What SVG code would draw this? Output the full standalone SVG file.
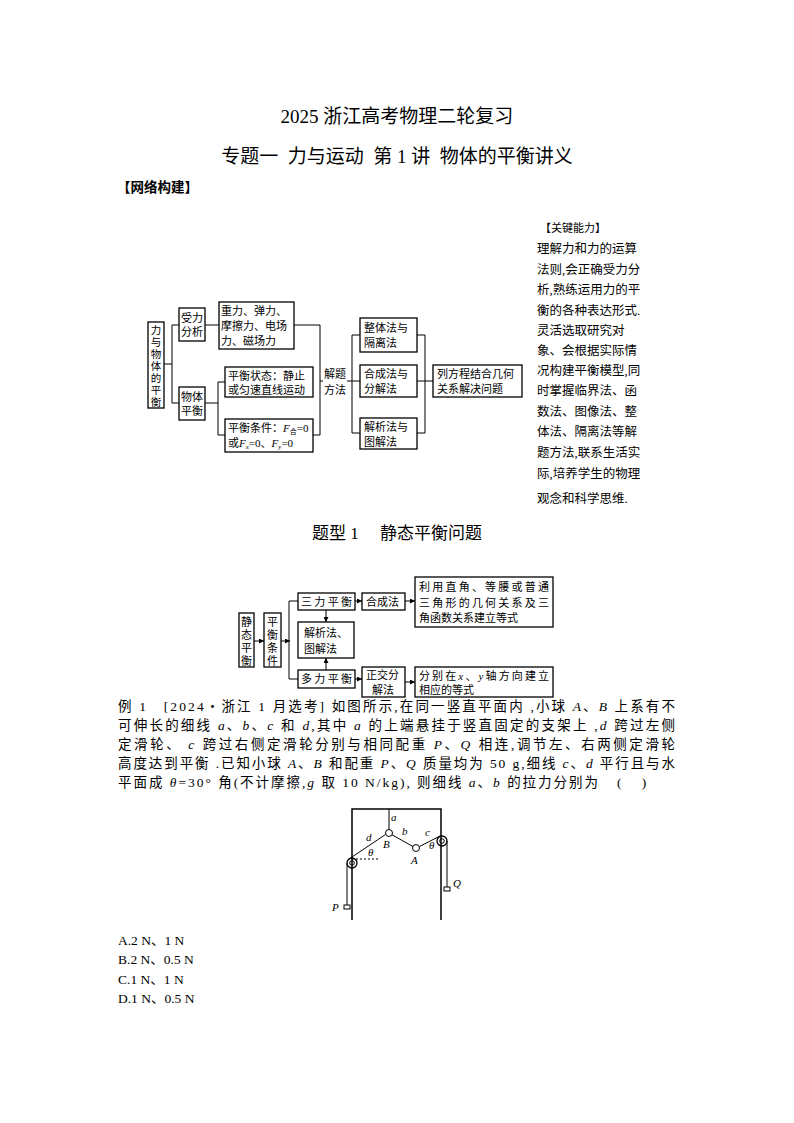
<svg xmlns="http://www.w3.org/2000/svg" width="794" height="1123" viewBox="0 0 794 1123">
<style>
text{font-family:"Liberation Serif","Noto Sans CJK SC",serif;fill:#000}
.t{font-size:13.5px}
.s{font-size:11px}
.b{fill:#fff;stroke:#000;stroke-width:1.3}
.l{fill:none;stroke:#000;stroke-width:1}
.i{font-style:italic}
</style>
<defs><marker id="ar" viewBox="0 0 6 6" refX="6" refY="3" markerWidth="5" markerHeight="5" orient="auto"><path d="M0,0L6,3L0,6z"/></marker></defs>
<rect width="794" height="1123" fill="#fff"/>
<text x="397" y="123" font-size="19" text-anchor="middle">2025 浙江高考物理二轮复习</text>
<text x="397" y="163" font-size="19" text-anchor="middle" xml:space="preserve">专题一  力与运动  第 1 讲  物体的平衡讲义</text>
<text x="117" y="192" font-size="13.5" font-weight="bold">【网络构建】</text>

<g id="conn1" class="l">
<path d="M164,364H172M172,325V403M172,325H179M172,403H179M205,325H219M205,403H218M218,382V435M218,382H225M218,435H225M294,325H320V435H313M320,381H323M347,381H352M352,335V433M352,335H360M352,381H360M352,433H360M417,335H425V433H417M417,381H433"/>
</g>
<g id="n1"><rect class="b" x="148" y="322" width="16" height="86"/><text font-size="10.5" text-anchor="middle"><tspan x="156" y="334">力</tspan><tspan x="156" y="346">与</tspan><tspan x="156" y="358">物</tspan><tspan x="156" y="370">体</tspan><tspan x="156" y="382">的</tspan><tspan x="156" y="394">平</tspan><tspan x="156" y="406">衡</tspan></text></g>
<g id="n2"><rect class="b" x="179" y="308" width="26" height="33"/><text class="s" x="181" y="322">受力</text><text class="s" x="181" y="336">分析</text></g>
<g id="n3"><rect class="b" x="179" y="387" width="26" height="33"/><text class="s" x="181" y="401">物体</text><text class="s" x="181" y="415">平衡</text></g>
<g id="n4"><rect class="b" x="219" y="302" width="75" height="47"/><text class="s" x="221" y="315">重力、弹力、</text><text class="s" x="221" y="330">摩擦力、电场</text><text class="s" x="221" y="345">力、磁场力</text></g>
<g id="n5"><rect class="b" x="225" y="367" width="88" height="30"/><text class="s" x="228" y="380">平衡状态：静止</text><text class="s" x="228" y="394">或匀速直线运动</text></g>
<g id="n6"><rect class="b" x="225" y="419" width="88" height="33"/><text class="s" x="228" y="432">平衡条件：<tspan class="i">F</tspan><tspan font-size="7" dy="2">合</tspan><tspan dy="-2">=0</tspan></text><text class="s" x="228" y="447">或<tspan class="i">F</tspan><tspan font-size="7" dy="2" class="i">x</tspan><tspan dy="-2">=0、</tspan><tspan class="i">F</tspan><tspan font-size="7" dy="2" class="i">y</tspan><tspan dy="-2">=0</tspan></text></g>
<g id="n7"><text class="s" x="324" y="378">解题</text><text class="s" x="324" y="394">方法</text></g>
<g id="n8"><rect class="b" x="360" y="318" width="57" height="34"/><text class="s" x="364" y="332">整体法与</text><text class="s" x="364" y="347">隔离法</text></g>
<g id="n9"><rect class="b" x="360" y="365" width="57" height="32"/><text class="s" x="364" y="378">合成法与</text><text class="s" x="364" y="393">分解法</text></g>
<g id="n10"><rect class="b" x="360" y="418" width="57" height="31"/><text class="s" x="364" y="431">解析法与</text><text class="s" x="364" y="446">图解法</text></g>
<g id="n11"><rect class="b" x="433" y="365" width="89" height="32"/><text class="s" x="437" y="378">列方程结合几何</text><text class="s" x="437" y="393">关系解决问题</text></g>

<g font-size="12.5">
<text x="540" y="232" font-size="11">【关键能力】</text>
<text x="537" y="253">理解力和力的运算</text>
<text x="537" y="274">法则,会正确受力分</text>
<text x="537" y="294">析,熟练运用力的平</text>
<text x="537" y="315">衡的各种表达形式.</text>
<text x="537" y="335">灵活选取研究对</text>
<text x="537" y="355">象、会根据实际情</text>
<text x="537" y="375">况构建平衡模型,同</text>
<text x="537" y="395">时掌握临界法、函</text>
<text x="537" y="416">数法、图像法、整</text>
<text x="537" y="436">体法、隔离法等解</text>
<text x="537" y="457">题方法,联系生活实</text>
<text x="537" y="478">际,培养学生的物理</text>
<text x="537" y="503">观念和科学思维.</text>
</g>

<text x="397" y="539" font-size="17" text-anchor="middle" xml:space="preserve">题型 1　 静态平衡问题</text>

<g id="conn2" class="l">
<path d="M254,641H264" marker-end="url(#ar)"/>
<path d="M281,641H290" marker-end="url(#ar)"/>
<path d="M289,601V679M289,601H298M289,679H298"/>
<path d="M355,601H362" marker-end="url(#ar)"/>
<path d="M405,601H415" marker-end="url(#ar)"/>
<path d="M326,610V622" marker-end="url(#ar)"/>
<path d="M326,670V658" marker-end="url(#ar)"/>
<path d="M355,679H362" marker-end="url(#ar)"/>
<path d="M405,682H415" marker-end="url(#ar)"/>
</g>
<g id="m1"><rect class="b" x="239" y="613" width="15" height="54"/><text class="s" text-anchor="middle"><tspan x="246.5" y="626">静</tspan><tspan x="246.5" y="639">态</tspan><tspan x="246.5" y="652">平</tspan><tspan x="246.5" y="665">衡</tspan></text></g>
<g id="m2"><rect class="b" x="264" y="613" width="17" height="54"/><text class="s" text-anchor="middle"><tspan x="272.5" y="626">平</tspan><tspan x="272.5" y="639">衡</tspan><tspan x="272.5" y="652">条</tspan><tspan x="272.5" y="665">件</tspan></text></g>
<g id="m3"><rect class="b" x="298" y="593" width="57" height="17"/><text class="s" x="301" y="606" textLength="51">三力平衡</text></g>
<g id="m4"><rect class="b" x="362" y="593" width="43" height="17"/><text class="s" x="366" y="606">合成法</text></g>
<g id="m5"><rect class="b" x="415" y="577" width="138" height="50"/><text class="s" x="419" y="591" textLength="130">利用直角、等腰或普通</text><text class="s" x="419" y="607" textLength="130">三角形的几何关系及三</text><text class="s" x="419" y="622">角函数关系建立等式</text></g>
<g id="m6"><rect class="b" x="298" y="622" width="56" height="36"/><text class="s" x="304" y="637">解析法、</text><text class="s" x="304" y="653">图解法</text></g>
<g id="m7"><rect class="b" x="298" y="670" width="57" height="18"/><text class="s" x="301" y="683" textLength="51">多力平衡</text></g>
<g id="m8"><rect class="b" x="362" y="667" width="43" height="30"/><text class="s" x="366" y="679">正交分</text><text class="s" x="372" y="694">解法</text></g>
<g id="m9"><rect class="b" x="415" y="667" width="138" height="30"/><text class="s" x="419" y="680" textLength="130">分别在<tspan class="i">x</tspan>、<tspan class="i">y</tspan>轴方向建立</text><text class="s" x="419" y="694">相应的等式</text></g>

<g class="t">
<text x="118" y="711" textLength="557">例 1　[2024・浙江 1 月选考] 如图所示,在同一竖直平面内 ,小球 <tspan class="i">A</tspan>、<tspan class="i">B</tspan> 上系有不</text>
<text x="118" y="730" textLength="557">可伸长的细线  <tspan class="i">a</tspan>、<tspan class="i">b</tspan>、<tspan class="i">c</tspan> 和 <tspan class="i">d</tspan>,其中 <tspan class="i">a</tspan> 的上端悬挂于竖直固定的支架上  ,<tspan class="i">d</tspan> 跨过左侧</text>
<text x="118" y="749" textLength="557">定滑轮、 <tspan class="i">c</tspan> 跨过右侧定滑轮分别与相同配重   <tspan class="i">P</tspan>、<tspan class="i">Q</tspan> 相连,调节左、右两侧定滑轮</text>
<text x="118" y="768" textLength="557">高度达到平衡 .已知小球 <tspan class="i">A</tspan>、<tspan class="i">B</tspan> 和配重 <tspan class="i">P</tspan>、<tspan class="i">Q</tspan> 质量均为  50 g,细线 <tspan class="i">c</tspan>、<tspan class="i">d</tspan> 平行且与水</text>
<text x="118" y="787" textLength="480">平面成 <tspan class="i">θ</tspan>=30° 角(不计摩擦,<tspan class="i">g</tspan> 取 10 N/kg), 则细线 <tspan class="i">a</tspan>、<tspan class="i">b</tspan> 的拉力分别为</text>
<text x="617" y="787" xml:space="preserve">(      )</text>
</g>

<g id="fig" class="l">
<path d="M352,920V809H441V920" stroke-width="1.5"/>
<path d="M389,809V829.5"/>
<circle cx="389" cy="833" r="3.5"/>
<circle cx="416" cy="848" r="3.5"/>
<path d="M349,859L385.5,834.5M392,834.8L413,846.5M419.5,846.5L440,836"/>
<circle cx="352" cy="863" r="5" stroke-width="1.3"/><circle cx="352" cy="863" r="2.3"/>
<circle cx="442" cy="841" r="5" stroke-width="1.3"/><circle cx="442" cy="841" r="2.3"/>
<path d="M352,859H378" stroke-dasharray="2,2"/>
<path d="M347,863V905M447,841V887"/>
<rect x="344" y="905" width="6" height="4"/>
<rect x="444" y="887" width="6" height="4"/>
</g>
<g font-size="11" font-style="italic">
<text x="391" y="821">a</text><text x="366" y="841">d</text><text x="402" y="835">b</text><text x="425" y="836">c</text>
<text x="383" y="848">B</text><text x="411" y="864">A</text><text x="368" y="856">θ</text><text x="429" y="849">θ</text>
<text x="332" y="911">P</text><text x="453" y="887">Q</text>
</g>

<g class="t">
<text x="118" y="945">A.2 N、1 N</text>
<text x="118" y="964">B.2 N、0.5 N</text>
<text x="118" y="984">C.1 N、1 N</text>
<text x="118" y="1003">D.1 N、0.5 N</text>
</g>
</svg>
